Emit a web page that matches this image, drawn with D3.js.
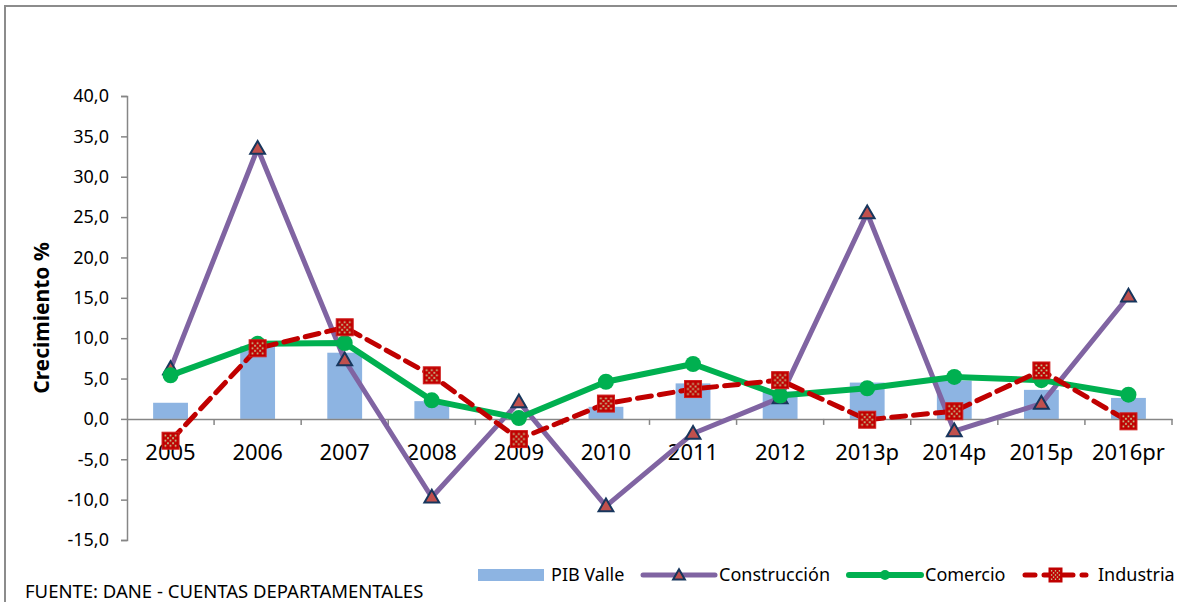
<!DOCTYPE html>
<html>
<head>
<meta charset="utf-8">
<script src="https://cdn.jsdelivr.net/npm/d3@7"></script>
<style>
  body { margin: 0; background: #fff; }
  svg { display: block; font-family: 'Noto Sans', 'Open Sans', sans-serif; }
</style>
</head>
<body>
<svg id="chart" width="1177" height="602"></svg>
<script>
// Crecimiento % - PIB Valle y sectores
const years = ['2005', '2006', '2007', '2008', '2009', '2010', '2011', '2012', '2013p', '2014p', '2015p', '2016pr'];
const pibValle = [2.0, 9.0, 8.2, 2.2, 0.0, 1.5, 4.4, 3.4, 4.5, 4.75, 3.6, 2.6];
const construccion = [6.2, 33.5, 7.3, -9.7, 2.1, -10.8, -1.8, 2.6, 25.5, -1.5, 1.9, 15.2];
const comercio = [5.4, 9.3, 9.4, 2.3, 0.1, 4.6, 6.8, 2.9, 3.8, 5.2, 4.8, 3.0];
const industria = [-2.7, 8.75, 11.35, 5.4, -2.5, 1.9, 3.7, 4.8, -0.1, 0.95, 6.0, -0.3];
const yTicks = [-15, -10, -5, 0, 5, 10, 15, 20, 25, 30, 35, 40];

const svg = d3.select('#chart');
const fmt = (v) => d3.format('.1f')(v).replace('.', ',').replace('−', '-');

// pattern for Industria markers
const defs = svg.append('defs');
const pat = defs.append('pattern')
  .attr('id', 'indPat')
  .attr('patternUnits', 'objectBoundingBox')
  .attr('patternContentUnits', 'objectBoundingBox')
  .attr('width', 1).attr('height', 1);
pat.append('rect').attr('width', 1).attr('height', 1).attr('fill', '#c00000');
[[0.2, 0.2], [0.35, 0.35], [0.5, 0.5], [0.65, 0.65], [0.8, 0.8], [0.8, 0.2], [0.65, 0.35], [0.35, 0.65], [0.2, 0.8],
 [0.5, 0.2], [0.2, 0.5], [0.8, 0.5], [0.5, 0.8]].forEach(([px, py]) => {
  pat.append('rect').attr('x', px - 0.05).attr('y', py - 0.05).attr('width', 0.1).attr('height', 0.1).attr('fill', '#c3d69b');
});

// outer frame
svg.append('rect')
  .attr('x', 5).attr('y', 6).attr('width', 1300).attr('height', 700)
  .attr('fill', 'none').attr('stroke', '#8c8c8c').attr('stroke-width', 2);

const x = d3.scaleBand().domain(years).range([127, 1172]);
const y = d3.scaleLinear().domain([-15, 40]).range([540, 96]);
const cx = (d, i) => x(years[i]) + x.bandwidth() / 2;

// bars
const barW = x.bandwidth() * 0.4;
svg.append('g').selectAll('rect')
  .data(pibValle)
  .join('rect')
  .attr('x', (d, i) => cx(d, i) - barW / 2)
  .attr('y', (d) => y(Math.max(0, d)))
  .attr('width', barW)
  .attr('height', (d) => Math.abs(y(d) - y(0)))
  .attr('fill', '#8db4e2');

// y axis
const yAxis = svg.append('g')
  .attr('transform', 'translate(127,0)')
  .call(d3.axisLeft(y).tickValues(yTicks).tickSize(6).tickPadding(12).tickFormat(fmt));
yAxis.select('.domain').attr('stroke', '#868686').attr('stroke-width', 1.5);
yAxis.selectAll('.tick line').attr('stroke', '#868686').attr('stroke-width', 1.5);
yAxis.selectAll('.tick text').attr('font-size', 18).attr('fill', '#000')
  .style('font-family', "'Noto Sans', sans-serif");

// x axis at zero
const xAxis = svg.append('g')
  .attr('transform', `translate(0,${y(0)})`)
  .call(d3.axisBottom(x).tickSize(0).tickPadding(25).tickSizeOuter(0));
xAxis.select('.domain').attr('stroke', '#868686').attr('stroke-width', 1.5);
xAxis.selectAll('.tick text').attr('font-size', 22).attr('fill', '#000')
  .style('font-family', "'Noto Sans', sans-serif");
xAxis.selectAll('.xb')
  .data(years.map((c) => x(c) + x.bandwidth()))
  .join('line')
  .attr('class', 'xb')
  .attr('x1', (d) => d).attr('x2', (d) => d)
  .attr('y1', 0).attr('y2', 6)
  .attr('stroke', '#868686').attr('stroke-width', 1.5);

// y axis title
svg.append('text')
  .attr('transform', 'translate(49,318) rotate(-90)')
  .attr('text-anchor', 'middle')
  .attr('font-size', 21).attr('font-weight', 'bold')
  .text('Crecimiento %');

const line = d3.line().x((d, i) => cx(d, i)).y((d) => y(d));
const triPath = d3.symbol().type(d3.symbolTriangle).size(95)();

// Construcción
svg.append('path').datum(construccion)
  .attr('d', line).attr('fill', 'none')
  .attr('stroke', '#8064a2').attr('stroke-width', 5).attr('stroke-linejoin', 'round');
svg.append('g').selectAll('path')
  .data(construccion)
  .join('path')
  .attr('d', triPath)
  .attr('transform', (d, i) => `translate(${cx(d, i)},${y(d) + 1})`)
  .attr('fill', '#c0504d').attr('stroke', '#17365d').attr('stroke-width', 2);

// Comercio
svg.append('path').datum(comercio)
  .attr('d', line).attr('fill', 'none')
  .attr('stroke', '#00b050').attr('stroke-width', 6).attr('stroke-linejoin', 'round');
svg.append('g').selectAll('circle')
  .data(comercio)
  .join('circle')
  .attr('cx', (d, i) => cx(d, i)).attr('cy', (d) => y(d))
  .attr('r', 8).attr('fill', '#00b050');

// Industria
svg.append('path').datum(industria)
  .attr('d', line).attr('fill', 'none')
  .attr('stroke', '#c00000').attr('stroke-width', 5)
  .attr('stroke-dasharray', '14,8').attr('stroke-linecap', 'round');
svg.append('g').selectAll('rect')
  .data(industria)
  .join('rect')
  .attr('x', (d, i) => cx(d, i) - 8.5).attr('y', (d) => y(d) - 8.5)
  .attr('width', 17).attr('height', 17)
  .attr('fill', 'url(#indPat)').attr('stroke', '#d02020').attr('stroke-width', 1);

// legend
const leg = svg.append('g').attr('font-size', 18);
const ly = 575;
leg.append('rect').attr('x', 478).attr('y', ly - 6).attr('width', 66).attr('height', 12).attr('fill', '#8db4e2');
leg.append('text').attr('x', 551).attr('y', ly + 6).text('PIB Valle');

leg.append('line').attr('x1', 643).attr('x2', 715).attr('y1', ly).attr('y2', ly)
  .attr('stroke', '#8064a2').attr('stroke-width', 5).attr('stroke-linecap', 'round');
leg.append('path').attr('d', d3.symbol().type(d3.symbolTriangle).size(60)())
  .attr('transform', `translate(679,${ly + 1})`)
  .attr('fill', '#c0504d').attr('stroke', '#17365d').attr('stroke-width', 2);
leg.append('text').attr('x', 719).attr('y', ly + 6).text('Construcción');

leg.append('line').attr('x1', 849).attr('x2', 921).attr('y1', ly).attr('y2', ly)
  .attr('stroke', '#00b050').attr('stroke-width', 6).attr('stroke-linecap', 'round');
leg.append('circle').attr('cx', 885).attr('cy', ly).attr('r', 5).attr('fill', '#00b050');
leg.append('text').attr('x', 925).attr('y', ly + 6).text('Comercio');

leg.append('line').attr('x1', 1025).attr('x2', 1086).attr('y1', ly).attr('y2', ly)
  .attr('stroke', '#c00000').attr('stroke-width', 5)
  .attr('stroke-dasharray', '10,9').attr('stroke-linecap', 'round');
leg.append('rect').attr('x', 1049).attr('y', ly - 7).attr('width', 13).attr('height', 14)
  .attr('fill', 'url(#indPat)').attr('stroke', '#c00000');
leg.append('text').attr('x', 1098).attr('y', ly + 6).text('Industria');

// source note
svg.append('text')
  .attr('x', 25).attr('y', 598)
  .attr('font-size', 18.5)
  .text('FUENTE: DANE - CUENTAS DEPARTAMENTALES');
</script>
</body>
</html>
